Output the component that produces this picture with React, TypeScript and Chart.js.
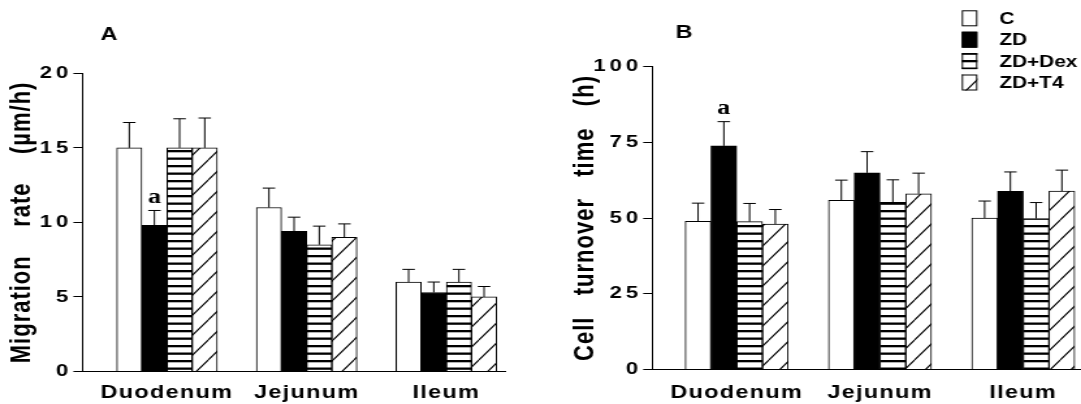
import React, { useEffect, useRef } from 'react';
import { Chart, registerables } from 'chart.js';

Chart.register(...registerables);

// ---------------- data ----------------
const categories = ['Duodenum', 'Jejunum', 'Ileum'];
const seriesLabels = ['C', 'ZD', 'ZD+Dex', 'ZD+T4'];

// Panel A: migration rate (µm/h), mean and SEM
const migrationC = [15.0, 11.0, 6.0];
const migrationZD = [9.8, 9.4, 5.3];
const migrationDex = [15.0, 8.5, 6.0];
const migrationT4 = [15.0, 9.0, 5.0];
const migrationSemC = [1.7, 1.3, 0.85];
const migrationSemZD = [1.0, 0.95, 0.7];
const migrationSemDex = [1.95, 1.25, 0.85];
const migrationSemT4 = [2.0, 0.9, 0.7];
const migrationSigZD = ['a', '', ''];
const migrationTicks = [0, 5, 10, 15, 20];

// Panel B: cell turnover time (h), mean and SEM
const turnoverC = [48.9, 55.8, 50.0];
const turnoverZD = [73.8, 64.9, 58.8];
const turnoverDex = [48.8, 55.2, 49.8];
const turnoverT4 = [48.0, 58.0, 58.9];
const turnoverSemC = [6.0, 6.7, 5.6];
const turnoverSemZD = [8.0, 7.0, 6.4];
const turnoverSemDex = [6.0, 7.4, 5.3];
const turnoverSemT4 = [4.8, 6.8, 6.9];
const turnoverSigZD = ['a', '', ''];
const turnoverTicks = [0, 25, 50, 75, 100];

const noSig = ['', '', ''];

// ---------------- styling ----------------
const FONT = '"Liberation Sans", Arial, Helvetica, sans-serif';
const SERIF = '"Liberation Serif", "Times New Roman", serif';

function stripePattern(): CanvasPattern | string {
  const c = document.createElement('canvas');
  c.width = 4;
  c.height = 15;
  const g = c.getContext('2d');
  if (!g) return '#888';
  g.fillStyle = '#ffffff';
  g.fillRect(0, 0, 4, 15);
  g.fillStyle = '#000000';
  g.fillRect(0, 0, 4, 2.3);
  g.fillRect(0, 7.5, 4, 2.3);
  return g.createPattern(c, 'repeat') || '#888';
}

function diagonalPattern(): CanvasPattern | string {
  const w = 16;
  const h = 20;
  const c = document.createElement('canvas');
  c.width = w;
  c.height = h;
  const g = c.getContext('2d');
  if (!g) return '#ccc';
  g.fillStyle = '#ffffff';
  g.fillRect(0, 0, w, h);
  g.strokeStyle = '#000000';
  g.lineWidth = 1.1;
  g.beginPath();
  for (const dx of [-w, 0, w]) {
    g.moveTo(dx, h);
    g.lineTo(dx + w, 0);
  }
  g.stroke();
  return g.createPattern(c, 'repeat') || '#ccc';
}

// letter spacing: 1px for axis titles / category labels, 3px for the y tick labels (drawn after datasets)
const letterSpacingPlugin = {
  id: 'letterSpacing',
  beforeUpdate(chart: any) {
    chart.ctx.letterSpacing = '1px';
  },
  beforeDraw(chart: any) {
    chart.ctx.letterSpacing = '1px';
  },
  afterDatasetsDraw(chart: any) {
    chart.ctx.letterSpacing = '3px';
  },
};

const errorBarPlugin = {
  id: 'errorBars',
  afterDatasetsDraw(chart: any, _args: any, opts: any) {
    const ctx = chart.ctx;
    const yScale = chart.scales.y;
    chart.data.datasets.forEach((ds: any, di: number) => {
      const meta = chart.getDatasetMeta(di);
      meta.data.forEach((el: any, i: number) => {
        const v = ds.data[i].y;
        const top = yScale.getPixelForValue(v + ds.sem[i]);
        ctx.save();
        ctx.strokeStyle = '#000';
        ctx.lineWidth = 1;
        ctx.beginPath();
        ctx.moveTo(el.x, el.y);
        ctx.lineTo(el.x, top);
        ctx.moveTo(el.x - opts.cap / 2, top);
        ctx.lineTo(el.x + opts.cap / 2, top);
        ctx.stroke();
        if (ds.sig && ds.sig[i]) {
          ctx.fillStyle = '#000';
          ctx.font = `bold 20px ${SERIF}`;
          ctx.letterSpacing = '0px';
          ctx.textAlign = 'center';
          ctx.textBaseline = 'alphabetic';
          ctx.fillText(ds.sig[i], el.x, top - 7.5);
        }
        ctx.restore();
      });
    });
  },
};

const decorPlugin = {
  id: 'panelDecor',
  afterDraw(chart: any, _args: any, opts: any) {
    const ctx = chart.ctx;
    ctx.save();
    ctx.fillStyle = '#000';
    ctx.font = `bold 18px ${FONT}`;
    ctx.letterSpacing = '0px';
    ctx.textAlign = 'center';
    ctx.textBaseline = 'middle';
    ctx.fillText(opts.letter, opts.letterX, opts.letterY);
    if (opts.showLegend) {
      ctx.font = `bold 16px ${FONT}`;
      ctx.textAlign = 'left';
      chart.data.datasets.forEach((ds: any, i: number) => {
        const cy = opts.legendY + i * opts.legendGap;
        ctx.fillStyle = ds.backgroundColor;
        ctx.fillRect(opts.boxX, cy - 8, opts.boxW, 16);
        ctx.strokeStyle = '#000';
        ctx.lineWidth = 1;
        ctx.strokeRect(opts.boxX + 0.5, cy - 7.5, opts.boxW - 1, 15);
        ctx.fillStyle = '#000';
        ctx.fillText(ds.label, opts.textX, cy + 1);
      });
    }
    ctx.restore();
  },
};

type Spec = {
  iw: number;
  pageLeft: number;
  pageWidth: number;
  top: number;
  xHeight: number;
  yWidth: number;
  padRight: number;
  xMin: number;
  xMax: number;
  xLabelPad: number;
  barThickness: number;
  yMax: number;
  yTicks: number[];
  values: number[][];
  sems: number[][];
  sigs: string[][];
  title: string;
  titlePad: number;
  letter: string;
  letterX: number;
  letterY: number;
  showLegend: boolean;
};

function buildConfig(spec: Spec): any {
  const fills = ['#ffffff', '#000000', stripePattern(), diagonalPattern()];
  const datasets = seriesLabels.map((label, s) => ({
    label,
    data: categories.map((_, i) => ({ x: i, y: spec.values[s][i] })),
    backgroundColor: fills[s],
    borderColor: '#000000',
    borderWidth: 1,
    borderSkipped: 'start',
    barThickness: spec.barThickness,
    sem: spec.sems[s],
    sig: spec.sigs[s],
  }));
  return {
    type: 'bar',
    data: { datasets },
    options: {
      animation: false,
      responsive: false,
      devicePixelRatio: 1,
      events: [],
      layout: { padding: { left: 0, right: spec.padRight, top: spec.top, bottom: 0 } },
      plugins: {
        legend: { display: false },
        tooltip: { enabled: false },
        title: { display: false },
        errorBars: { cap: 9.6 },
        panelDecor: {
          letter: spec.letter,
          letterX: spec.letterX,
          letterY: spec.letterY,
          showLegend: spec.showLegend,
          boxX: 324.3,
          boxW: 12,
          textX: 353.2,
          legendY: 18.3,
          legendGap: 21.4,
        },
      },
      scales: {
        x: {
          type: 'linear',
          min: spec.xMin,
          max: spec.xMax,
          bounds: 'data',
          offset: false,
          afterBuildTicks: (s: any) => {
            s.ticks = categories.map((_, i) => ({ value: i }));
          },
          afterFit: (s: any) => {
            s.height = spec.xHeight;
          },
          grid: { display: false, drawTicks: false },
          border: { display: true, color: '#000000', width: 1 },
          ticks: {
            autoSkip: false,
            maxRotation: 0,
            minRotation: 0,
            padding: spec.xLabelPad,
            color: '#000000',
            font: { family: FONT, weight: 'bold', size: 18 },
            callback: (v: any) => categories[Math.round(Number(v))] ?? '',
          },
        },
        y: {
          type: 'linear',
          min: 0,
          max: spec.yMax,
          afterBuildTicks: (s: any) => {
            s.ticks = spec.yTicks.map((v) => ({ value: v }));
          },
          afterFit: (s: any) => {
            s.width = spec.yWidth;
          },
          grid: {
            display: true,
            drawOnChartArea: false,
            drawTicks: true,
            tickLength: 7,
            color: '#000000',
            lineWidth: 1,
          },
          border: { display: true, color: '#000000', width: 1 },
          ticks: {
            z: 1,
            padding: 1,
            color: '#000000',
            font: { family: FONT, weight: 'bold', size: 17 },
          },
          title: {
            display: true,
            text: spec.title,
            color: '#000000',
            font: { family: FONT, weight: 'bold', size: 22 },
            padding: { top: spec.titlePad, bottom: 0 },
          },
        },
      },
    },
    plugins: [letterSpacingPlugin, errorBarPlugin, decorPlugin],
  };
}

const specA: Spec = {
  iw: 415,
  pageLeft: 0,
  pageWidth: 540,
  top: 73.3,
  xHeight: 32.5,
  yWidth: 63.4,
  padRight: 26.9,
  xMin: -0.605,
  xMax: 2.42,
  xLabelPad: 10.7,
  barThickness: 19.33,
  yMax: 20,
  yTicks: migrationTicks,
  values: [migrationC, migrationZD, migrationDex, migrationT4],
  sems: [migrationSemC, migrationSemZD, migrationSemDex, migrationSemT4],
  sigs: [noSig, migrationSigZD, noSig, noSig],
  title: 'Migration    rate    (µm/h)',
  titlePad: 4,
  letter: 'A',
  letterX: 83.8,
  letterY: 35,
  showLegend: false,
};

const specB: Spec = {
  iw: 416,
  pageLeft: 540,
  pageWidth: 541,
  top: 66.5,
  xHeight: 34.5,
  yWidth: 86.35,
  padRight: 0,
  xMin: -0.589,
  xMax: 2.403,
  xLabelPad: 12.7,
  barThickness: 19.8,
  yMax: 100,
  yTicks: turnoverTicks,
  values: [turnoverC, turnoverZD, turnoverDex, turnoverT4],
  sems: [turnoverSemC, turnoverSemZD, turnoverSemDex, turnoverSemT4],
  sigs: [noSig, turnoverSigZD, noSig, noSig],
  title: 'Cell   turnover   time   (h)',
  titlePad: 21.4,
  letter: 'B',
  letterX: 110.8,
  letterY: 33.3,
  showLegend: true,
};

function Panel({ spec }: { spec: Spec }) {
  const ref = useRef<HTMLCanvasElement>(null);
  useEffect(() => {
    if (!ref.current) return;
    const chart = new Chart(ref.current, buildConfig(spec));
    return () => chart.destroy();
  }, [spec]);
  return (
    <canvas
      ref={ref}
      width={spec.iw}
      height={404}
      style={{
        position: 'absolute',
        left: spec.pageLeft,
        top: 0,
        width: `${spec.pageWidth}px`,
        height: '404px',
      }}
    />
  );
}

export default function App() {
  return (
    <div
      style={{
        position: 'fixed',
        left: 0,
        top: 0,
        width: '1081px',
        height: '404px',
        background: '#ffffff',
        overflow: 'hidden',
      }}
    >
      <Panel spec={specA} />
      <Panel spec={specB} />
    </div>
  );
}
